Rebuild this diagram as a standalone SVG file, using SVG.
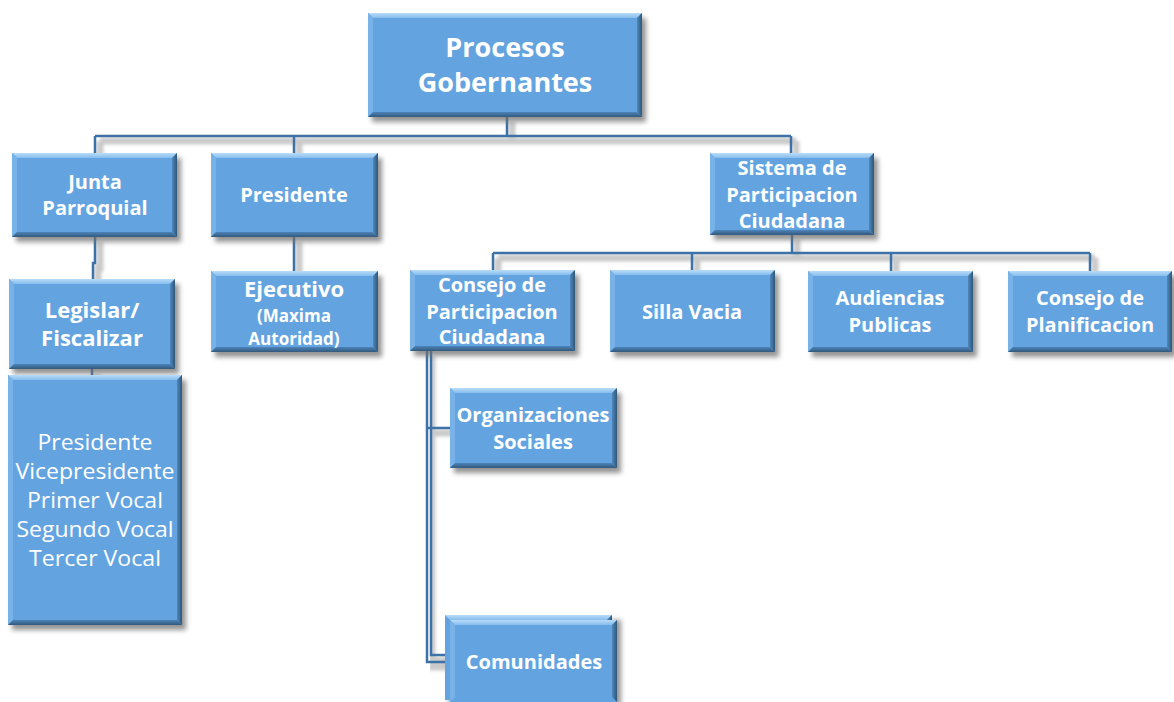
<svg xmlns="http://www.w3.org/2000/svg" width="1174" height="702" viewBox="0 0 1174 702">
<defs>
<filter id="sh" x="-10%" y="-10%" width="130%" height="130%"><feGaussianBlur stdDeviation="2.5"/></filter>
<filter id="lsh" x="-5%" y="-5%" width="110%" height="110%"><feGaussianBlur stdDeviation="1.5"/></filter>
<linearGradient id="gTop" x1="0" y1="0" x2="0" y2="1"><stop offset="0" stop-color="#b9dcf7"/><stop offset="1" stop-color="#86bdee"/></linearGradient>
<linearGradient id="gRight" x1="0" y1="0" x2="1" y2="0"><stop offset="0" stop-color="#4f88bd"/><stop offset="1" stop-color="#2f5677"/></linearGradient>
<linearGradient id="gBottom" x1="0" y1="0" x2="0" y2="1"><stop offset="0" stop-color="#4c84ba"/><stop offset="1" stop-color="#33597c"/></linearGradient>
</defs>
<style>
.shd{fill:#6f6f6f;opacity:.75;filter:url(#sh)}
.base{fill:#63a4e0}
.bt{fill:url(#gTop)}
.bl{fill:#78b2e6}
.br{fill:url(#gRight)}
.bb{fill:url(#gBottom)}
.t{font-family:"Open Sans","Noto Sans",sans-serif;font-weight:700;fill:#ffffff;text-anchor:middle}
.r{font-family:"Open Sans","Noto Sans",sans-serif;font-weight:400;fill:#ffffff;text-anchor:middle}
.con{fill:none;stroke:#3d72a8;stroke-width:2.5}
.cons{fill:none;stroke:#bdbdbd;stroke-width:7;filter:url(#lsh);opacity:.8}
</style>
<rect x="0" y="0" width="1174" height="702" fill="#ffffff"/>
<g id="connectors">
<g transform="translate(5,5)">
<path class="cons" d="M507 117V136M95 136H791M95 136V150M294 136V150M791 136V150"/>
<path class="cons" d="M95 237V263H93V276M294 237V268M92 369V373"/>
<path class="cons" d="M792 235V253M493 253H1090M493 253V267M692 253V267M891 253V268M1090 253V268"/>
<path class="cons" d="M427 351V662H445M427 428H448M427 655H445"/>
</g>
<path class="con" d="M507 117V136M95 136H791M95 136V153M294 136V153M791 136V153"/>
<path class="con" d="M95 237V263H93V279M294 237V271M92 369V375"/>
<path class="con" d="M792 235V253M493 253H1090M493 253V270M692 253V270M891 253V271M1090 253V271"/>
<path class="con" d="M427 351V662H447M427 428H450M431 351V655H447"/>
</g>
<g id="n-procesos">
<rect class="shd" x="372" y="18" width="274" height="104"/>
<rect class="base" x="368" y="13" width="274" height="104"/>
<polygon class="bt" points="368,13 642,13 637,18 373,18"/>
<polygon class="bl" points="368,13 373,18 373,112 368,117"/>
<polygon class="br" points="642,13 642,117 637,112 637,18"/>
<polygon class="bb" points="368,117 642,117 637,112 373,112"/>
<text class="t" x="505" y="57" font-size="27">Procesos</text>
<text class="t" x="505" y="92" font-size="27">Gobernantes</text>
</g>
<g id="n-junta">
<rect class="shd" x="16" y="158" width="165" height="84"/>
<rect class="base" x="12" y="153" width="165" height="84"/>
<polygon class="bt" points="12,153 177,153 172,158 17,158"/>
<polygon class="bl" points="12,153 17,158 17,232 12,237"/>
<polygon class="br" points="177,153 177,237 172,232 172,158"/>
<polygon class="bb" points="12,237 177,237 172,232 17,232"/>
<text class="t" x="95" y="189" font-size="20">Junta</text>
<text class="t" x="95" y="215" font-size="20">Parroquial</text>
</g>
<g id="n-presidente">
<rect class="shd" x="215" y="158" width="167" height="84"/>
<rect class="base" x="211" y="153" width="167" height="84"/>
<polygon class="bt" points="211,153 378,153 373,158 216,158"/>
<polygon class="bl" points="211,153 216,158 216,232 211,237"/>
<polygon class="br" points="378,153 378,237 373,232 373,158"/>
<polygon class="bb" points="211,237 378,237 373,232 216,232"/>
<text class="t" x="294" y="202" font-size="20">Presidente</text>
</g>
<g id="n-sistema">
<rect class="shd" x="714" y="158" width="164" height="82"/>
<rect class="base" x="710" y="153" width="164" height="82"/>
<polygon class="bt" points="710,153 874,153 869,158 715,158"/>
<polygon class="bl" points="710,153 715,158 715,230 710,235"/>
<polygon class="br" points="874,153 874,235 869,230 869,158"/>
<polygon class="bb" points="710,235 874,235 869,230 715,230"/>
<text class="t" x="792" y="175" font-size="20">Sistema de</text>
<text class="t" x="792" y="202" font-size="20">Participacion</text>
<text class="t" x="792" y="228" font-size="20">Ciudadana</text>
</g>
<g id="n-legislar">
<rect class="shd" x="13" y="284" width="166" height="90"/>
<rect class="base" x="9" y="279" width="166" height="90"/>
<polygon class="bt" points="9,279 175,279 170,284 14,284"/>
<polygon class="bl" points="9,279 14,284 14,364 9,369"/>
<polygon class="br" points="175,279 175,369 170,364 170,284"/>
<polygon class="bb" points="9,369 175,369 170,364 14,364"/>
<text class="t" x="92" y="318" font-size="22">Legislar/</text>
<text class="t" x="92" y="346" font-size="22">Fiscalizar</text>
</g>
<g id="n-miembros">
<rect class="shd" x="12" y="380" width="174" height="250"/>
<rect class="base" x="8" y="375" width="174" height="250"/>
<polygon class="bt" points="8,375 182,375 177,380 13,380"/>
<polygon class="bl" points="8,375 13,380 13,620 8,625"/>
<polygon class="br" points="182,375 182,625 177,620 177,380"/>
<polygon class="bb" points="8,625 182,625 177,620 13,620"/>
<text class="r" x="95" y="450" font-size="21" textLength="115" lengthAdjust="spacingAndGlyphs">Presidente</text>
<text class="r" x="95" y="479" font-size="21" textLength="159" lengthAdjust="spacingAndGlyphs">Vicepresidente</text>
<text class="r" x="95" y="508" font-size="21" textLength="136" lengthAdjust="spacingAndGlyphs">Primer Vocal</text>
<text class="r" x="95" y="537" font-size="21" textLength="157" lengthAdjust="spacingAndGlyphs">Segundo Vocal</text>
<text class="r" x="95" y="566" font-size="21" textLength="132" lengthAdjust="spacingAndGlyphs">Tercer Vocal</text>
</g>
<g id="n-ejecutivo">
<rect class="shd" x="215" y="276" width="167" height="81"/>
<rect class="base" x="211" y="271" width="167" height="81"/>
<polygon class="bt" points="211,271 378,271 373,276 216,276"/>
<polygon class="bl" points="211,271 216,276 216,347 211,352"/>
<polygon class="br" points="378,271 378,352 373,347 373,276"/>
<polygon class="bb" points="211,352 378,352 373,347 216,347"/>
<text class="t" x="294" y="297" font-size="22">Ejecutivo</text>
<text class="t" x="294" y="322" font-size="17">(Maxima</text>
<text class="t" x="294" y="345" font-size="17">Autoridad)</text>
</g>
<g id="n-consejo-pc">
<rect class="shd" x="414" y="275" width="165" height="81"/>
<rect class="base" x="410" y="270" width="165" height="81"/>
<polygon class="bt" points="410,270 575,270 570,275 415,275"/>
<polygon class="bl" points="410,270 415,275 415,346 410,351"/>
<polygon class="br" points="575,270 575,351 570,346 570,275"/>
<polygon class="bb" points="410,351 575,351 570,346 415,346"/>
<text class="t" x="492" y="292" font-size="20">Consejo de</text>
<text class="t" x="492" y="319" font-size="20">Participacion</text>
<text class="t" x="492" y="344" font-size="20">Ciudadana</text>
</g>
<g id="n-silla">
<rect class="shd" x="614" y="275" width="165" height="82"/>
<rect class="base" x="610" y="270" width="165" height="82"/>
<polygon class="bt" points="610,270 775,270 770,275 615,275"/>
<polygon class="bl" points="610,270 615,275 615,347 610,352"/>
<polygon class="br" points="775,270 775,352 770,347 770,275"/>
<polygon class="bb" points="610,352 775,352 770,347 615,347"/>
<text class="t" x="692" y="319" font-size="20">Silla Vacia</text>
</g>
<g id="n-audiencias">
<rect class="shd" x="812" y="276" width="165" height="81"/>
<rect class="base" x="808" y="271" width="165" height="81"/>
<polygon class="bt" points="808,271 973,271 968,276 813,276"/>
<polygon class="bl" points="808,271 813,276 813,347 808,352"/>
<polygon class="br" points="973,271 973,352 968,347 968,276"/>
<polygon class="bb" points="808,352 973,352 968,347 813,347"/>
<text class="t" x="890" y="305" font-size="20">Audiencias</text>
<text class="t" x="890" y="332" font-size="20">Publicas</text>
</g>
<g id="n-planificacion">
<rect class="shd" x="1012" y="276" width="164" height="81"/>
<rect class="base" x="1008" y="271" width="164" height="81"/>
<polygon class="bt" points="1008,271 1172,271 1167,276 1013,276"/>
<polygon class="bl" points="1008,271 1013,276 1013,347 1008,352"/>
<polygon class="br" points="1172,271 1172,352 1167,347 1167,276"/>
<polygon class="bb" points="1008,352 1172,352 1167,347 1013,347"/>
<text class="t" x="1090" y="305" font-size="20">Consejo de</text>
<text class="t" x="1090" y="332" font-size="20">Planificacion</text>
</g>
<g id="n-organizaciones">
<rect class="shd" x="454" y="393" width="167" height="80"/>
<rect class="base" x="450" y="388" width="167" height="80"/>
<polygon class="bt" points="450,388 617,388 612,393 455,393"/>
<polygon class="bl" points="450,388 455,393 455,463 450,468"/>
<polygon class="br" points="617,388 617,468 612,463 612,393"/>
<polygon class="bb" points="450,468 617,468 612,463 455,463"/>
<text class="t" x="533" y="422" font-size="20">Organizaciones</text>
<text class="t" x="533" y="449" font-size="20">Sociales</text>
</g>
<g id="n-comunidades">
<rect class="shd" x="449" y="620" width="172" height="85"/>
<rect class="base" x="445" y="615" width="167" height="85"/>
<polygon class="bt" points="445,615 612,615 607,620 450,620"/>
<polygon class="br" points="612,615 612,700 607,695 607,620"/>
<rect class="base" x="450" y="620" width="167" height="82"/>
<polygon class="bt" points="450,620 617,620 612,625 455,625"/>
<polygon class="bl" points="450,620 455,625 455,697 450,702"/>
<polygon class="br" points="617,620 617,702 612,697 612,625"/>
<text class="t" x="534" y="669" font-size="20">Comunidades</text>
</g>
</svg>
